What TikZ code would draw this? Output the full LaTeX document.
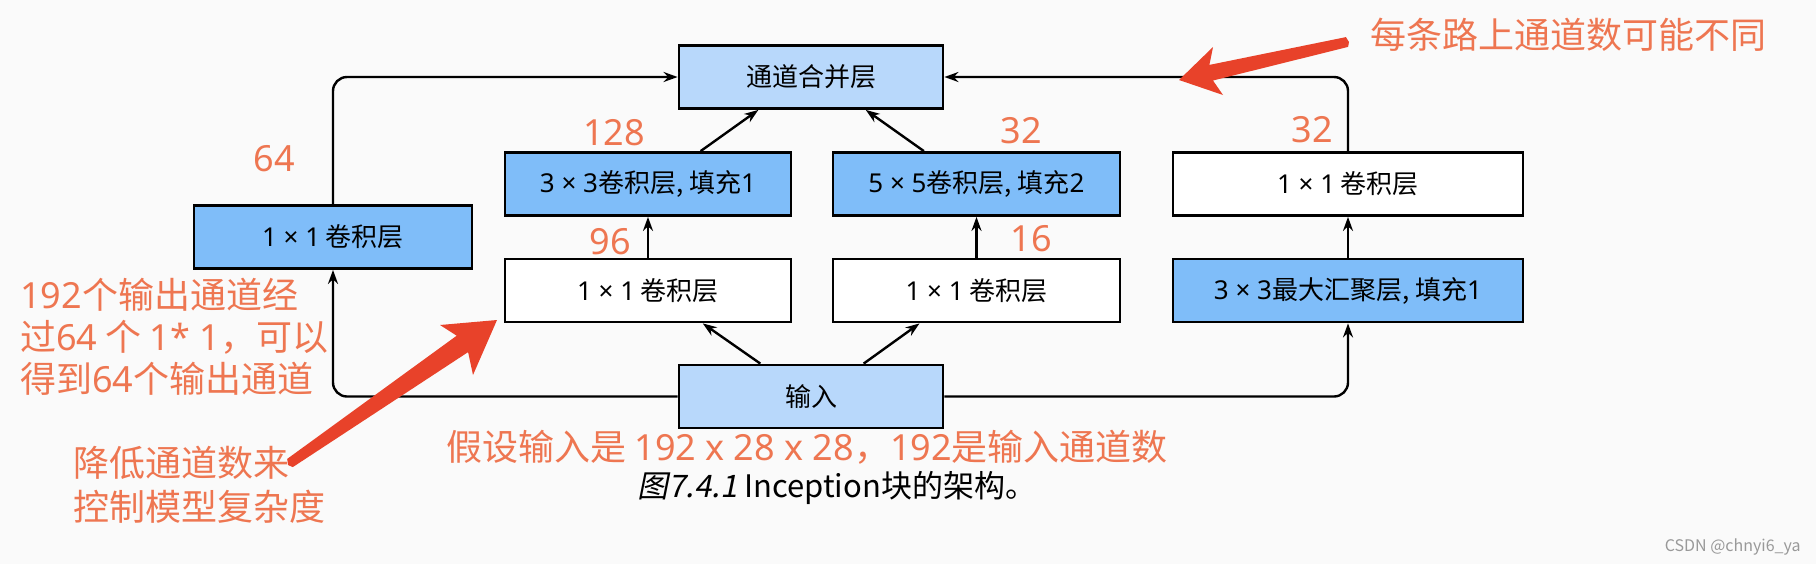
\documentclass[tikz,border=0pt]{standalone}
\usepackage{fontspec}
\setmainfont{Noto Sans CJK SC}
\newfontfamily\slantfont{Noto Sans CJK SC}[FakeSlant=0.2]
\newfontfamily\latin{Noto Sans}
\usetikzlibrary{arrows.meta}
\definecolor{convblue}{HTML}{7FBDF9}
\definecolor{lightblue}{HTML}{B8D8FB}
\definecolor{notecolor}{HTML}{EE7651}
\definecolor{markred}{HTML}{E8422A}

\begin{document}
\begin{tikzpicture}[x=0.5pt, y=-0.5pt,
  layer/.style={draw, line width=1.4pt, minimum height=31.5pt, inner sep=0pt, font=\fontsize{13}{15}\selectfont},
  conn/.style={line width=1.2pt, -{Stealth[length=7pt,width=5pt]}},
  num/.style={text=notecolor, inner sep=0pt, font=\fontsize{18}{21}\selectfont}]
  \fill[black!2] (0,0) rectangle (1816,564);
  \useasboundingbox (0,0) rectangle (1816,564);

  \node[layer, fill=lightblue, minimum width=132pt] (merge) at (811,77) {通道合并层};
  \node[layer, fill=convblue, minimum width=143pt] (conva) at (648,184) {{\latin 3 × 3}卷积层, 填充{\latin 1}};
  \node[layer, fill=convblue, minimum width=143.5pt] (convb) at (976.5,184) {{\latin 5 × 5}卷积层, 填充{\latin 2}};
  \node[layer, fill=white, minimum width=175pt] (convc) at (1348,184) {{\latin 1 × 1} 卷积层};
  \node[layer, fill=convblue, minimum width=139pt] (convd) at (333,237) {{\latin 1 × 1} 卷积层};
  \node[layer, fill=white, minimum width=143pt] (reda) at (648,290.5) {{\latin 1 × 1} 卷积层};
  \node[layer, fill=white, minimum width=143.5pt] (redb) at (976.5,290.5) {{\latin 1 × 1} 卷积层};
  \node[layer, fill=convblue, minimum width=175pt] (pool) at (1348,290.5) {{\latin 3 × 3}最大汇聚层, 填充{\latin 1}};
  \node[layer, fill=lightblue, minimum width=132pt] (input) at (811,396.5) {输入};

  \draw[conn, rounded corners=7pt] (convd.north) |- (merge.west);
  \draw[conn, rounded corners=7pt] (convc.north) |- (merge.east);
  \draw[conn] (conva.32) -- (merge.212);
  \draw[conn] (convb.148) -- (merge.329);
  \draw[conn] (reda) -- (conva);
  \draw[conn] (redb) -- (convb);
  \draw[conn] (pool) -- (convc);
  \draw[conn] (input.147) -- (reda.329);
  \draw[conn] (input.32) -- (redb.210);
  \draw[conn, rounded corners=7pt] (input.west) -| (convd.south);
  \draw[conn, rounded corners=7pt] (input.east) -| (pool.south);

  \node[num, font=\latin\fontsize{18}{21}\selectfont] (n64) at (274,159) {64};
  \node[num, font=\latin\fontsize{18}{21}\selectfont] (n128) at (614,133) {128};
  \node[num, font=\latin\fontsize{18}{21}\selectfont] (n96) at (610,242) {96};
  \node[num, font=\latin\fontsize{18}{21}\selectfont] (n32a) at (1021,131) {32};
  \node[num, font=\latin\fontsize{18}{21}\selectfont] (n16) at (1031,239) {16};
  \node[num, font=\latin\fontsize{18}{21}\selectfont] (n32b) at (1312,130) {32};

  \node[num, anchor=west] (pathnote) at (1370,35) {每条路上通道数可能不同};
  \node[num, anchor=west, align=left] (reducenote) at (20,336.5) {{\latin 192}个输出通道经\\过{\latin 64} 个 {\latin 1* 1}，可以\\得到{\latin 64}个输出通道};
  \node[num, anchor=west, align=left, font=\fontsize{18}{22}\selectfont] (costnote) at (73,485) {降低通道数来\\控制模型复杂度};
  \node[num, anchor=west] (inputnote) at (446,447) {假设输入是 {\latin 192 x 28 x 28}，{\latin 192}是输入通道数};
  \node[anchor=west, inner sep=0pt, font=\fontsize{15.5}{18}\selectfont] (caption) at (637,488) {{\slantfont 图7.4.1} Inception块的架构。};
  \node[anchor=east, inner sep=0pt, text=black!40, font=\fontsize{8}{10}\selectfont] (mark) at (1801,547) {CSDN @chnyi6\_ya};

  \fill[markred] (1179,80) -- (1213,47) -- (1209.4,64.9) -- (1345.9,37.1) -- (1349,42) -- (1348.1,46.9) -- (1213,80.5) -- (1223,95) -- cycle;
  \fill[markred] (497,320) -- (440,325) -- (456.7,335.7) -- (287.2,458.9) -- (288,465) -- (292.8,467.1) -- (468.1,352.1) -- (473,375) -- cycle;
\end{tikzpicture}
\end{document}
